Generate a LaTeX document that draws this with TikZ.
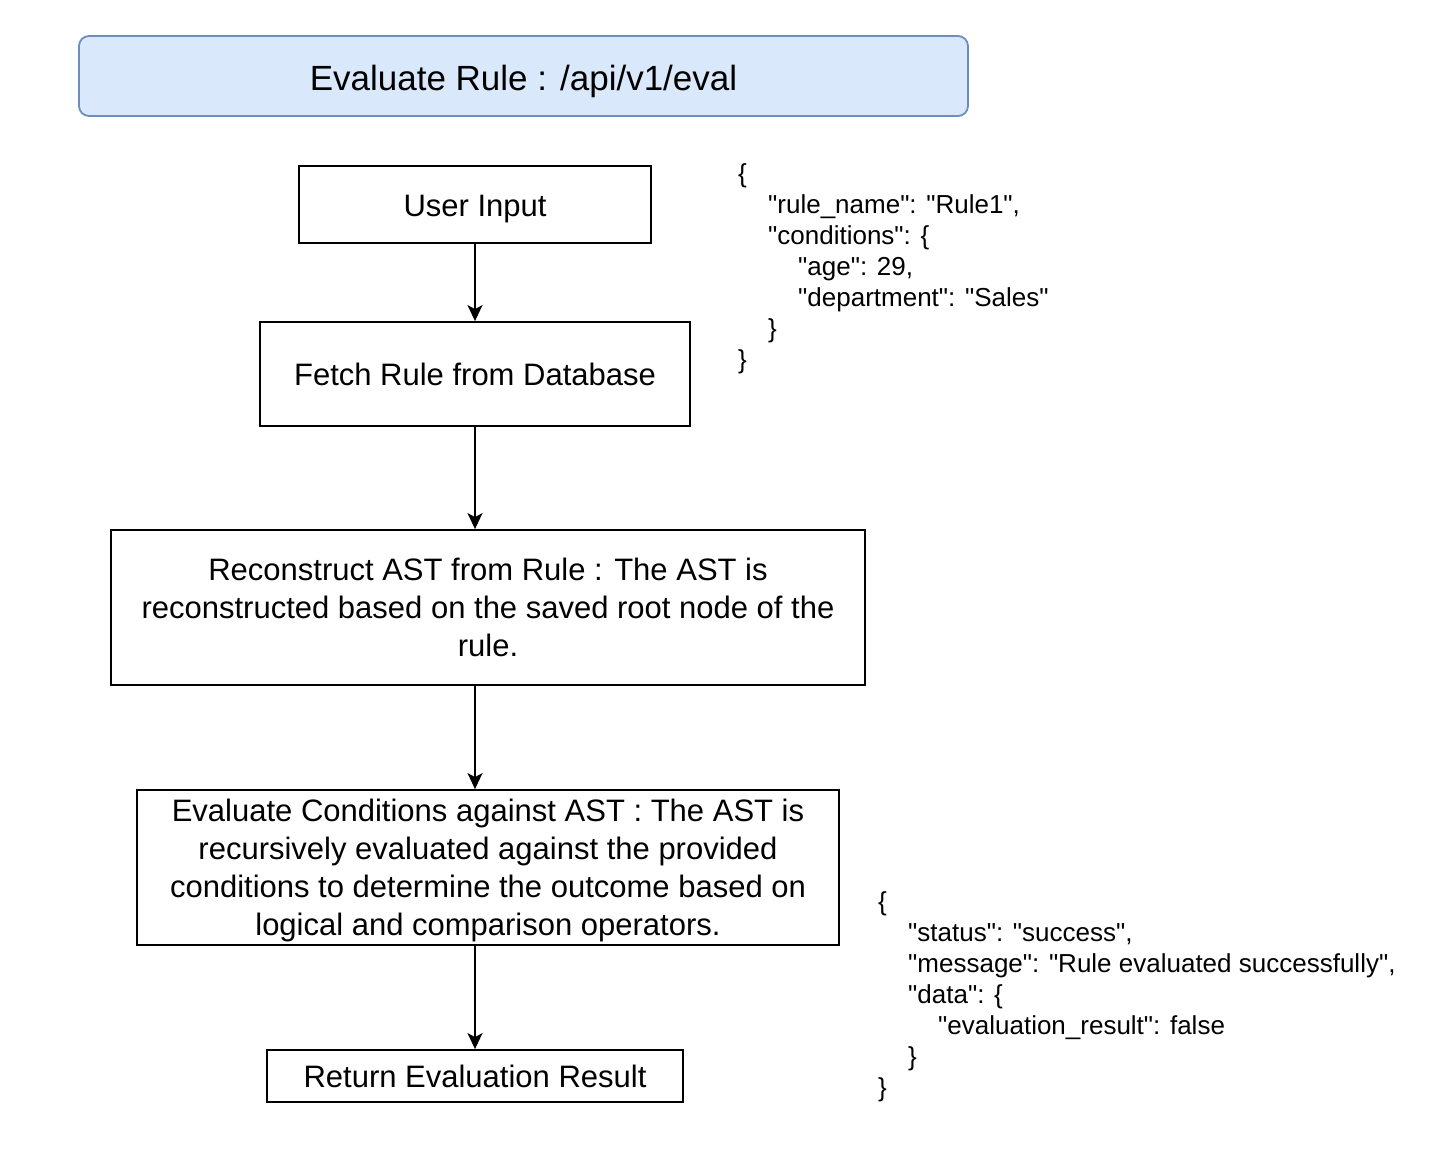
\documentclass[tikz,border=0pt]{standalone}
\usepackage{fontspec}
\setmainfont{Liberation Sans}[Ligatures=TeXOff]
\usetikzlibrary{arrows.meta}
\definecolor{titlefill}{HTML}{DAE8FC}
\definecolor{titledraw}{HTML}{6C8EBF}
\tikzset{
  flowbox/.style={draw=black, line width=1.8pt, fill=white, align=center, inner sep=0pt,
    font=\fontsize{31}{38}\selectfont},
  flowarrow/.style={draw=black, line width=2pt, -{Stealth[length=16pt,width=15pt,inset=4pt]}},
  jsontext/.style={anchor=north west, inner sep=0pt, align=left, font=\fontsize{26}{31}\selectfont}
}
\newcommand{\ind}[1]{\hspace*{#1pt}}
\newcommand{\q}{\symbol{34}}
\newcommand{\lowertext}[2]{\raisebox{-#1pt}[\height][\depth]{#2}}
\begin{document}
\begin{tikzpicture}[x=1pt,y=-1pt]
\useasboundingbox (0,0) rectangle (1434,1156);
\node[draw=titledraw, fill=titlefill, line width=1.8pt, rounded corners=10pt,
  minimum width=889pt, minimum height=80pt, inner sep=0pt,
  font=\fontsize{35}{42}\selectfont] (title) at (523.5,76) {\lowertext{5}{Evaluate Rule : /api/v1/eval}};
\node[flowbox, minimum width=352pt, minimum height=77pt] (user) at (475,204.5) {\lowertext{5}{User Input}};
\node[flowbox, minimum width=430pt, minimum height=104pt] (fetch) at (475,374) {Fetch Rule from Database};
\node[flowbox, minimum width=754pt, minimum height=155pt] (recon) at (488,607.5)
  {Reconstruct AST from Rule : The AST is\\reconstructed based on the saved root node of the\\rule.};
\node[flowbox, minimum width=702pt, minimum height=155pt] (evalc) at (488,867.5)
  {\lowertext{3}{\begin{tabular}{@{}c@{}}Evaluate Conditions against AST : The AST is\\recursively evaluated against the provided\\conditions to determine the outcome based on\\logical and comparison operators.\end{tabular}}};
\node[flowbox, minimum width=416pt, minimum height=52pt] (ret) at (475,1076) {Return Evaluation Result};
\draw[flowarrow] (user.south) -- (fetch.north);
\draw[flowarrow] (fetch.south) -- (fetch.south |- recon.north);
\draw[flowarrow] (fetch.south |- recon.south) -- (fetch.south |- evalc.north);
\draw[flowarrow] (fetch.south |- evalc.south) -- (ret.north);
\node[jsontext] (req) at (738,163) {\{\\
\ind{30}\q rule\_name\q: \q Rule1\q,\\
\ind{30}\q conditions\q: \{\\
\ind{60}\q age\q: 29,\\
\ind{60}\q department\q: \q Sales\q\\
\ind{30}\}\\
\}};
\node[jsontext] (resp) at (878,891) {\{\\
\ind{30}\q status\q: \q success\q,\\
\ind{30}\q message\q: \q Rule evaluated successfully\q,\\
\ind{30}\q data\q: \{\\
\ind{60}\q evaluation\_result\q: false\\
\ind{30}\}\\
\}};
\end{tikzpicture}
\end{document}
